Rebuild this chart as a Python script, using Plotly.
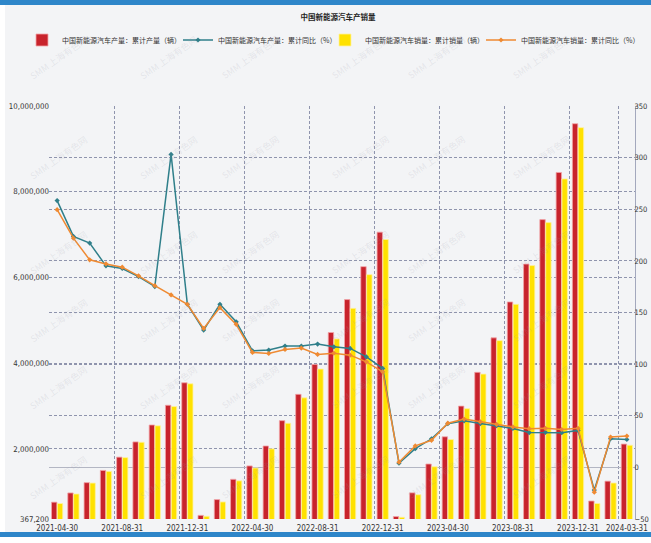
import plotly.graph_objects as go

# ---------------- data ----------------
dates = ["2021-04-30", "2021-05-31", "2021-06-30", "2021-07-31", "2021-08-31", "2021-09-30",
         "2021-10-31", "2021-11-30", "2021-12-31",
         "2022-01-31", "2022-02-28", "2022-03-31", "2022-04-30", "2022-05-31", "2022-06-30",
         "2022-07-31", "2022-08-31", "2022-09-30", "2022-10-31", "2022-11-30", "2022-12-31",
         "2023-01-31", "2023-02-28", "2023-03-31", "2023-04-30", "2023-05-31", "2023-06-30",
         "2023-07-31", "2023-08-31", "2023-09-30", "2023-10-31", "2023-11-30", "2023-12-31",
         "2024-01-31", "2024-02-29", "2024-03-31"]

tick_labels = ["2021-04-30", "2021-08-31", "2021-12-31", "2022-04-30", "2022-08-31",
               "2022-12-31", "2023-04-30", "2023-08-31", "2023-12-31", "2024-03-31"]

production_cum = [760000, 975000, 1215000, 1500000, 1810000, 2165000, 2560000, 3020000, 3545000,
                  452000, 820000, 1293000, 1605000, 2070000, 2661000, 3275000, 3972000, 4717000,
                  5485000, 6253000, 7058000,
                  425000, 977000, 1650000, 2285000, 3000000, 3788000, 4592000, 5430000, 6313000,
                  7350000, 8450000, 9587000,
                  787000, 1250000, 2115000]

sales_cum = [728000, 950000, 1206000, 1478000, 1799000, 2157000, 2541000, 2990000, 3521000,
             431000, 765000, 1257000, 1556000, 2003000, 2600000, 3193000, 3864000, 4567000,
             5280000, 6066000, 6887000,
             408000, 933000, 1586000, 2220000, 2940000, 3747000, 4527000, 5374000, 6278000,
             7280000, 8300000, 9495000,
             729000, 1207000, 2088000]

production_yoy = [258.4, 223.7, 217.2, 195.2, 192.6, 184.8, 175.1, 303.1, 158.0,
                  133.0, 158.0, 141.0, 112.9, 113.6, 117.5, 117.5, 119.4, 116.8, 115.2, 107.0, 95.8,
                  4.0, 18.1, 27.7, 42.3, 45.1, 42.4, 40.3, 37.7, 33.7, 33.9, 33.6, 35.8,
                  -22.0, 27.7, 27.0]

sales_yoy = [249.6, 222.0, 201.0, 197.0, 193.9, 185.5, 176.0, 167.0, 158.0,
             134.6, 154.7, 138.5, 111.3, 110.3, 114.2, 115.5, 109.4, 110.6, 108.7, 102.2, 92.5,
             5.0, 20.8, 26.2, 42.8, 46.8, 44.1, 41.7, 39.2, 37.5, 37.8, 36.7, 37.9,
             -24.0, 29.4, 30.3]

left_tickvals = [367200, 2000000, 4000000, 6000000, 8000000, 10000000]
left_ticktext = ["367,200", "2,000,000", "4,000,000", "6,000,000", "8,000,000", "10,000,000"]

names = ["中国新能源汽车产量：累计产量（辆）", "中国新能源汽车产量：累计同比（%）",
         "中国新能源汽车销量：累计销量（辆）", "中国新能源汽车销量：累计同比（%）"]

# ---------------- style ----------------
W, H = 651, 543
ML, MR, MT, MB = 49, 16, 106, 24
PW, PH = W - ML - MR, H - MT - MB
BG = "#f3f4f6"
GRID = "#8f94ad"
RED = "#c8232c"
YEL = "#ffe100"
TEAL = "#2f7f8a"
ORG = "#ef8a32"
NUMFONT = "DejaVu Sans Condensed, Liberation Sans Narrow, Arial Narrow, sans-serif"
CJK = "Noto Sans CJK SC"

fig = go.Figure()
fig.add_trace(go.Bar(x=dates, y=production_cum, name=names[0], legend="legend",
                     marker=dict(color=RED, line=dict(color="#f2a5a8", width=0.8))))
fig.add_trace(go.Bar(x=dates, y=sales_cum, name=names[2], legend="legend3",
                     marker=dict(color=YEL, line=dict(color="#fff2a0", width=0.8))))
fig.add_trace(go.Scatter(x=dates, y=production_yoy, name=names[1], yaxis="y2", legend="legend2",
                         mode="lines+markers", line=dict(color=TEAL, width=1.5),
                         marker=dict(symbol="diamond", size=4, color=TEAL)))
fig.add_trace(go.Scatter(x=dates, y=sales_yoy, name=names[3], yaxis="y2", legend="legend4",
                         mode="lines+markers", line=dict(color=ORG, width=1.5),
                         marker=dict(symbol="diamond", size=4, color=ORG)))

def px_to_paper(px, py):
    """figure pixel -> paper coordinates"""
    return (px - ML) / PW, (H - MB - py) / PH

# watermarks
annotations = []
for wy in [30, 130, 225, 320, 415, 505]:
    for wx in [25, 135, 250, 360, 470, 575]:
        ax_, ay_ = px_to_paper(wx, wy)
        annotations.append(dict(x=ax_, y=ay_, xref="paper", yref="paper", text="SMM 上海有色网",
                                showarrow=False, textangle=-35,
                                font=dict(family=CJK, size=9, color="rgba(150,155,170,0.18)")))

def rect(x0, y0, x1, y1, color):
    a0, b0 = px_to_paper(x0, y0)
    a1, b1 = px_to_paper(x1, y1)
    return dict(type="rect", xref="paper", yref="paper", x0=a0, y0=b0, x1=a1, y1=b1,
                fillcolor=color, line=dict(width=0), layer="above")

shapes = [rect(-5, 5, 5, 532, "#ffffff"),
          rect(-5, -5, 660, 5, "#2e86c9"),
          rect(-5, 537, 660, 560, "#ffffff"),
          rect(-5, 532, 660, 537, "#2e86c9")]

legend_common = dict(orientation="h", xref="container", yref="container", yanchor="middle",
                     xanchor="left", bgcolor="rgba(0,0,0,0)", itemwidth=30,
                     font=dict(family=CJK, size=7, color="#333"))
ly = 1 - 40 / H
text_starts = [62, 218, 365, 521]
legends = {}
for i, key in enumerate(["legend", "legend2", "legend3", "legend4"]):
    legends[key] = dict(legend_common, x=(text_starts[i] - 40) / W, y=ly)

fig.update_layout(
    width=W, height=H,
    margin=dict(l=ML, r=MR, t=MT, b=MB, autoexpand=False),
    paper_bgcolor=BG, plot_bgcolor=BG,
    showlegend=True,
    barmode="group", bargap=0.28, bargroupgap=0.08,
    font=dict(family=NUMFONT, size=8, color="#333"),
    title=dict(text="<b>中国新能源汽车产销量</b>", x=338 / W, xanchor="center",
               y=1 - 17 / H, yanchor="middle", xref="container", yref="container",
               font=dict(family=CJK, size=7.5, color="#222")),
    xaxis=dict(type="category", tickmode="array", tickvals=tick_labels, ticktext=tick_labels,
               tickson="boundaries", showgrid=True, gridcolor=GRID, griddash="3px,2px",
               gridwidth=1, ticks="", showline=False, zeroline=False, tickangle=0,
               range=[-0.5, len(dates) - 0.5], tickfont=dict(size=8), ticklabelstandoff=3,
               automargin=False),
    yaxis=dict(range=[367200, 10000000], tickmode="array", tickvals=left_tickvals,
               ticktext=left_ticktext, showgrid=True, gridcolor=GRID, griddash="3px,2px",
               gridwidth=1, zeroline=False, ticks="", showline=False, tickfont=dict(size=7.8),
               ticklabelstandoff=-1, automargin=False),
    yaxis2=dict(overlaying="y", side="right", range=[-50, 350], tickmode="linear", tick0=0,
                dtick=50, showgrid=True, gridcolor=GRID, griddash="3px,2px", gridwidth=1,
                zeroline=True, zerolinecolor="#b3b6c3", zerolinewidth=1, ticks="",
                showline=True, linecolor="#a3a8bd", linewidth=1, tickfont=dict(size=7.5),
                ticklabelstandoff=-3, automargin=False),
    annotations=annotations,
    shapes=shapes,
    **legends,
)

fig.write_html("out.html",
               config={"displayModeBar": False},
               post_script="document.body.style.margin='0';document.body.style.overflow='hidden';")
